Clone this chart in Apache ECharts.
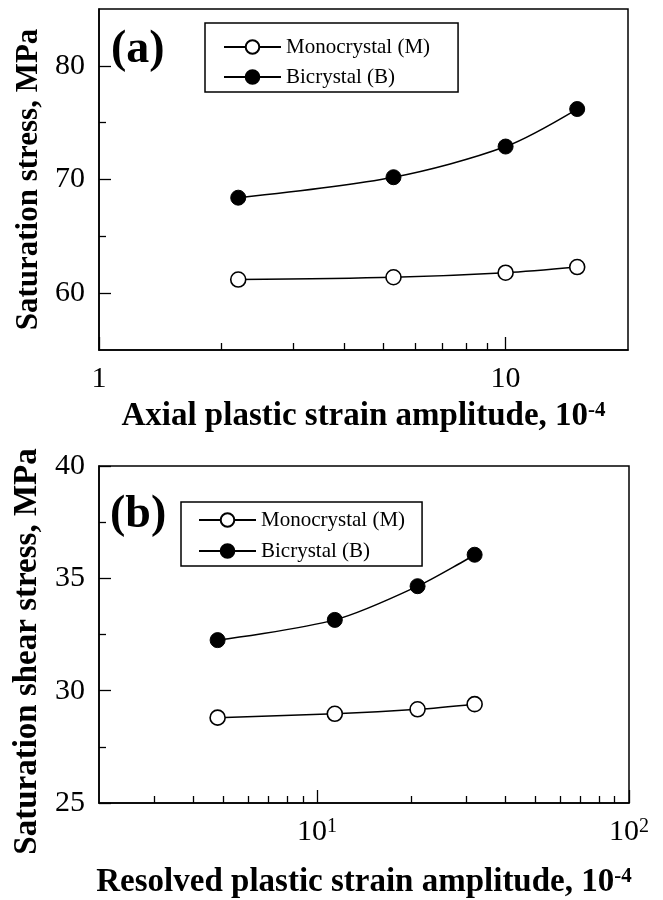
<!DOCTYPE html>
<html>
<head>
<meta charset="utf-8">
<script src="https://cdn.jsdelivr.net/npm/echarts@6/dist/echarts.min.js"></script>
<style>
html, body { margin: 0; padding: 0; background: #fff; }
#chart { width: 663px; height: 900px; }
</style>
</head>
<body>
<div id="chart"></div>
<script>
// (a) axial plastic strain amplitude (10^-4) -> saturation stress (MPa)
var strainA = [2.2, 5.3, 10, 15];
var monoA = [61.2, 61.4, 61.8, 62.3];
var biA = [68.4, 70.2, 72.9, 76.2];

// (b) resolved plastic strain amplitude (10^-4) -> saturation shear stress (MPa)
var strainB = [4.8, 11.4, 21, 32];
var monoB = [28.8, 28.97, 29.17, 29.4];
var biB = [32.25, 33.15, 34.65, 36.05];

// tick values
var xMajorA = [1, 10];
var xMinorA = [2, 3, 4, 5, 6, 7, 8, 9];
var yMajorA = [60, 70, 80];
var yMinorA = [65, 75];
var xMajorB = [10, 100];
var xMinorB = [3, 4, 5, 6, 7, 8, 9, 20, 30, 40, 50, 60, 70, 80, 90];
var yMajorB = [25, 30, 35, 40];
var yMinorB = [27.5, 32.5, 37.5];

var names = ['Monocrystal (M)', 'Bicrystal (B)'];
var serif = 'Liberation Serif';

var chart = echarts.init(document.getElementById('chart'));

function pairs(xs, ys) {
    return xs.map(function (x, i) { return [x, ys[i]]; });
}

// main x axis (line, major ticks, labels) + a twin only for minor ticks
function xAxes(grid, min, max, major, minor, fmt, title, gap) {
    return [
        {
            gridIndex: grid, type: 'log', logBase: 10, min: min, max: max,
            position: 'bottom',
            axisLine: { show: true, onZero: false, lineStyle: { color: '#000', width: 1.5 } },
            axisTick: { show: true, inside: true, length: 13, customValues: major, lineStyle: { color: '#000', width: 1.3 } },
            axisLabel: {
                show: true, customValues: major, margin: 14, color: '#000',
                fontFamily: serif, fontSize: 30, formatter: fmt,
                rich: {
                    n: { fontFamily: serif, fontSize: 30, color: '#000' },
                    s: { fontFamily: serif, fontSize: 20, color: '#000', verticalAlign: 'top' }
                }
            },
            splitLine: { show: false },
            name: title, nameLocation: 'middle', nameGap: gap,
            nameTextStyle: {
                fontFamily: serif, fontWeight: 'bold', fontSize: 33, color: '#000',
                rich: { sup: { fontFamily: serif, fontWeight: 'bold', fontSize: 21, color: '#000', verticalAlign: 'top' } }
            }
        },
        {
            gridIndex: grid, type: 'log', logBase: 10, min: min, max: max,
            position: 'bottom',
            axisLine: { show: false },
            axisTick: { show: true, inside: true, length: 7, customValues: minor, lineStyle: { color: '#000', width: 1.3 } },
            axisLabel: { show: false },
            splitLine: { show: false }
        }
    ];
}

function yAxes(grid, min, max, major, minor, title, gap, pad, size) {
    return [
        {
            gridIndex: grid, type: 'value', min: min, max: max,
            position: 'left',
            axisLine: { show: true, onZero: false, lineStyle: { color: '#000', width: 1.5 } },
            axisTick: { show: true, inside: true, length: 12, customValues: major, lineStyle: { color: '#000', width: 1.3 } },
            axisLabel: { show: true, customValues: major, margin: 14, color: '#000', fontFamily: serif, fontSize: 30 },
            splitLine: { show: false },
            name: title, nameLocation: 'middle', nameGap: gap,
            nameTextStyle: { fontFamily: serif, fontWeight: 'bold', fontSize: size, color: '#000', padding: pad }
        },
        {
            gridIndex: grid, type: 'value', min: min, max: max,
            position: 'left',
            axisLine: { show: false },
            axisTick: { show: true, inside: true, length: 7, customValues: minor, lineStyle: { color: '#000', width: 1.3 } },
            axisLabel: { show: false },
            splitLine: { show: false }
        }
    ];
}

function monoSeries(x, y, data) {
    return {
        name: names[0], type: 'line', xAxisIndex: x, yAxisIndex: y, data: data,
        smooth: 0.3, symbol: 'circle', symbolSize: 15,
        lineStyle: { color: '#000', width: 1.5 },
        itemStyle: { color: '#fff', borderColor: '#000', borderWidth: 1.6 }
    };
}

function biSeries(x, y, data) {
    return {
        name: names[1], type: 'line', xAxisIndex: x, yAxisIndex: y, data: data,
        smooth: 0.3, symbol: 'circle', symbolSize: 15,
        lineStyle: { color: '#000', width: 1.5 },
        itemStyle: { color: '#000', borderColor: '#000', borderWidth: 1 }
    };
}

function legendBox(left, top, pad, gap) {
    return {
        data: names, orient: 'vertical', left: left, top: top,
        padding: pad, itemGap: gap, itemWidth: 57, itemHeight: 17,
        borderColor: '#000', borderWidth: 1.5, backgroundColor: '#fff',
        selectedMode: false,
        textStyle: { fontFamily: serif, fontSize: 21, color: '#000', lineHeight: 22 }
    };
}

var fmtA = function (v) { return String(v); };
var fmtB = function (v) { return '{n|10}{s|' + Math.round(Math.log10(v)) + '}'; };

var option = {
    backgroundColor: '#fff',
    animation: false,
    title: [
        { text: '(a)', left: 111, top: 27, padding: 0,
          textStyle: { fontFamily: serif, fontWeight: 'bold', fontSize: 46, color: '#000' } },
        { text: '(b)', left: 110, top: 492, padding: 0,
          textStyle: { fontFamily: serif, fontWeight: 'bold', fontSize: 46, color: '#000' } }
    ],
    legend: [
        legendBox(205, 23, [13, 28, 4, 18], 8),
        legendBox(181, 502, [7, 17, 4, 17], 9)
    ],
    grid: [
        { left: 99, top: 9, width: 529, height: 341, show: true, borderColor: '#000', borderWidth: 1.5, outerBoundsMode: 'none' },
        { left: 99, top: 466, width: 530, height: 337, show: true, borderColor: '#000', borderWidth: 1.5, outerBoundsMode: 'none' }
    ],
    xAxis: []
        .concat(xAxes(0, 1, 20, xMajorA, xMinorA, fmtA, 'Axial plastic strain amplitude, 10{sup|-4}', 50))
        .concat(xAxes(1, 2, 100, xMajorB, xMinorB, fmtB, 'Resolved plastic strain amplitude, 10{sup|-4}', 63)),
    yAxis: []
        .concat(yAxes(0, 55, 85, yMajorA, yMinorA, 'Saturation stress, MPa', 53, [0, 0, 0, 0], 31))
        .concat(yAxes(1, 25, 40, yMajorB, yMinorB, 'Saturation shear stress, MPa', 52, [0, 34, 0, 0], 33)),
    series: [
        monoSeries(0, 0, pairs(strainA, monoA)),
        biSeries(0, 0, pairs(strainA, biA)),
        monoSeries(2, 2, pairs(strainB, monoB)),
        biSeries(2, 2, pairs(strainB, biB))
    ]
};

chart.setOption(option);
</script>
</body>
</html>
